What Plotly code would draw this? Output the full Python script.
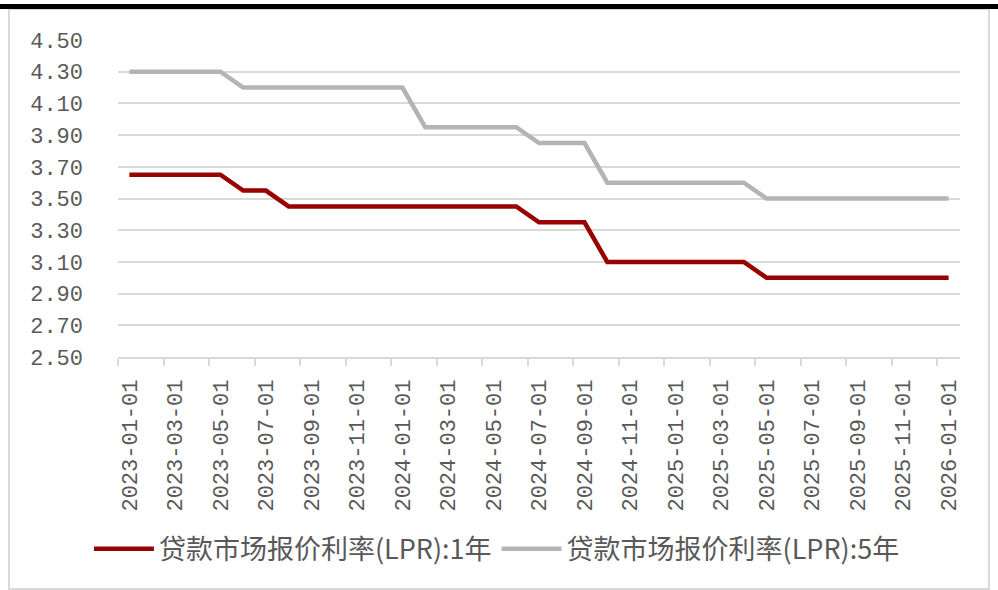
import plotly.graph_objects as go

months = [f"{y}-{m:02d}-01" for y in (2023, 2024, 2025) for m in range(1, 13)] + ["2026-01-01"]

lpr_1y = [3.65, 3.65, 3.65, 3.65, 3.65, 3.55, 3.55, 3.45, 3.45, 3.45, 3.45, 3.45,
          3.45, 3.45, 3.45, 3.45, 3.45, 3.45, 3.35, 3.35, 3.35, 3.10, 3.10, 3.10,
          3.10, 3.10, 3.10, 3.10, 3.00, 3.00, 3.00, 3.00, 3.00, 3.00, 3.00, 3.00,
          3.00]
lpr_5y = [4.30, 4.30, 4.30, 4.30, 4.30, 4.20, 4.20, 4.20, 4.20, 4.20, 4.20, 4.20,
          4.20, 3.95, 3.95, 3.95, 3.95, 3.95, 3.85, 3.85, 3.85, 3.60, 3.60, 3.60,
          3.60, 3.60, 3.60, 3.60, 3.50, 3.50, 3.50, 3.50, 3.50, 3.50, 3.50, 3.50,
          3.50]

names = ["贷款市场报价利率(LPR):1年", "贷款市场报价利率(LPR):5年"]
colors = ["#990000", "#B4B4B4"]

CJK = "Noto Sans CJK SC"
MONO = "Liberation Mono, Noto Sans CJK SC"
TXT = "#595959"

fig = go.Figure()
for vals, name, col in zip([lpr_1y, lpr_5y], names, colors):
    fig.add_trace(go.Scatter(x=months, y=vals, name=name, mode="lines",
                             line=dict(color=col, width=4.5)))

fig.update_layout(
    width=998, height=590,
    margin=dict(l=118, r=38, t=40, b=233),
    paper_bgcolor="white", plot_bgcolor="white",
    font=dict(family=CJK, color=TXT),
    showlegend=True,
    legend=dict(orientation="h", x=0.45, xanchor="center", y=-0.606, yanchor="middle",
                font=dict(size=27, family=CJK, color=TXT), itemwidth=60,
                bgcolor="rgba(0,0,0,0)"),
    xaxis=dict(type="category", tickson="boundaries", dtick=2, tickangle=-90,
               showgrid=False, showline=True, linecolor="#D9D9D9", linewidth=1.5,
               ticks="outside", ticklen=7, tickcolor="#D9D9D9", tickwidth=1.5,
               ticklabelstandoff=12,
               tickfont=dict(size=22, family=MONO, color=TXT),
               range=[-0.5, 36.5]),
    yaxis=dict(range=[2.5, 4.5], dtick=0.2, tick0=2.5, tickformat=".2f",
               showgrid=True, gridcolor="#D9D9D9", gridwidth=1.5, zeroline=False,
               showline=False, ticks="", ticklabelstandoff=34,
               tickfont=dict(size=22, family=MONO, color=TXT)),
    shapes=[
        dict(type="rect", xref="paper", yref="paper",
             x0=(9 - 118) / 842, x1=(989 - 118) / 842,
             y0=(357 - 589) / 317, y1=(357 - 9) / 317,
             line=dict(color="#D9D9D9", width=2), fillcolor="rgba(0,0,0,0)", layer="below"),
        dict(type="rect", xref="paper", yref="paper",
             x0=-0.2, x1=1.2,
             y0=(357 - 9) / 317, y1=(357 - 4) / 317,
             line=dict(width=0), fillcolor="black"),
    ],
)

fig.write_html("out.html", config={"displayModeBar": False},
               post_script="document.body.style.margin='0';")
